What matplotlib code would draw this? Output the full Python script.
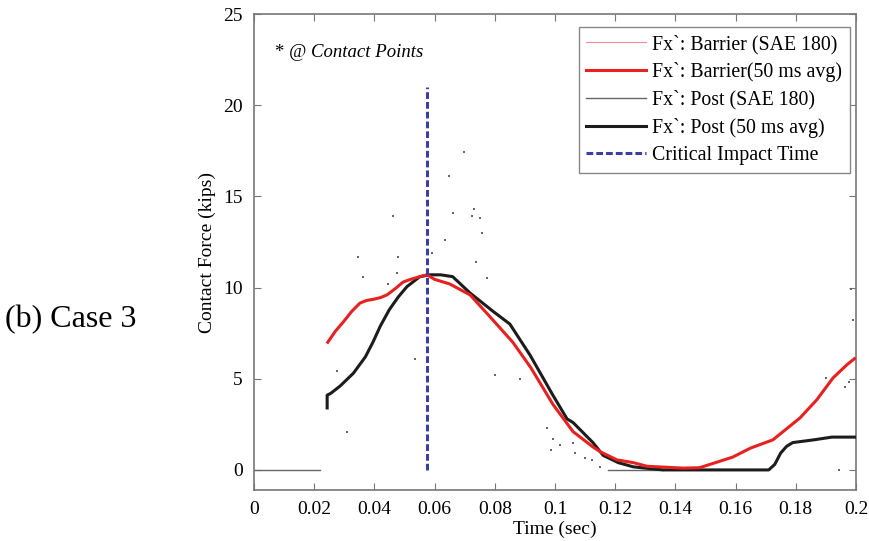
import matplotlib
matplotlib.use("Agg")
import matplotlib.pyplot as plt
from matplotlib.transforms import offset_copy
import numpy as np

plt.rcParams['font.family'] = ['Liberation Serif', 'DejaVu Serif']

# Barrier contact force, 50 ms moving average (kips)
barrier_t = [0.0245, 0.027, 0.0296, 0.0325, 0.0352, 0.0375, 0.0395, 0.042, 0.0442,
             0.047, 0.0495, 0.052, 0.0551, 0.0575, 0.060, 0.065, 0.0718, 0.0784,
             0.086, 0.092, 0.0993, 0.106, 0.1126, 0.115, 0.1206, 0.126, 0.1306,
             0.1425, 0.148, 0.159, 0.165, 0.1724, 0.1814, 0.187, 0.1924, 0.197, 0.1995]
barrier_avg = [7.0, 7.6, 8.1, 8.7, 9.15, 9.3, 9.35, 9.45, 9.6,
               9.95, 10.3, 10.45, 10.6, 10.7, 10.45, 10.2, 9.6, 8.4,
               7.0, 5.6, 3.6, 2.1, 1.26, 1.0, 0.55, 0.4, 0.2,
               0.1, 0.12, 0.7, 1.2, 1.65, 2.85, 3.85, 5.05, 5.77, 6.1]

# Post contact force, 50 ms moving average (kips)
post_t = [0.0243, 0.0243, 0.0255, 0.0286, 0.033, 0.037, 0.0395, 0.042, 0.045, 0.048,
          0.0508, 0.0551, 0.0585, 0.062, 0.066, 0.0718, 0.0794, 0.085, 0.0917,
          0.0993, 0.104, 0.106, 0.1126, 0.116, 0.121, 0.126, 0.131, 0.136, 0.150,
          0.171, 0.173, 0.175, 0.177, 0.179, 0.186, 0.192, 0.1995]
post_avg = [3.4, 4.1, 4.2, 4.6, 5.3, 6.2, 7.0, 7.9, 8.8, 9.5,
            10.05, 10.6, 10.7, 10.7, 10.6, 9.7, 8.7, 8.0, 6.3,
            4.1, 2.8, 2.6, 1.5, 0.8, 0.4, 0.17, 0.08, 0.0, 0.0,
            0.0, 0.3, 0.93, 1.3, 1.5, 1.65, 1.8, 1.8]

# Post contact force, SAE 180 filtered: flat zero segments
post_sae_t = [0.0, 0.0219, np.nan, 0.1176, 0.136]
post_sae = [0.0, 0.0, np.nan, 0.0, 0.0]

# Isolated SAE 180 samples at contact points
sample_t = [0.0698, 0.0648, 0.0661, 0.0724, 0.0731, 0.0751, 0.0757, 0.0635, 0.0462,
            0.0346, 0.0478, 0.0362, 0.0475, 0.0591, 0.0738, 0.0774, 0.0445,
            0.0973, 0.0993, 0.1017, 0.106, 0.0987, 0.1066, 0.110, 0.1123, 0.115,
            0.080, 0.0884, 0.0276, 0.0535, 0.0309,
            0.1983, 0.199, 0.190, 0.1977, 0.1963, 0.1944]
sample_f = [17.42, 16.1, 14.1, 13.9, 14.3, 13.8, 13.0, 12.6, 13.9,
            11.65, 11.65, 10.6, 10.8, 11.9, 11.4, 10.5, 10.2,
            2.3, 1.7, 1.37, 1.48, 1.1, 0.93, 0.66, 0.55, 0.16,
            5.2, 5.0, 5.4, 6.1, 2.1,
            9.9, 8.2, 5.05, 4.8, 4.55, 0.0]

critical_time = 0.0575
critical_top = 21.0

x_ticks = [0, 0.02, 0.04, 0.06, 0.08, 0.1, 0.12, 0.14, 0.16, 0.18, 0.2]
x_tick_labels = ['0', '0.02', '0.04', '0.06', '0.08', '0.1', '0.12', '0.14', '0.16', '0.18', '0.2']
y_ticks = [0, 5, 10, 15, 20, 25]

fig = plt.figure(figsize=(8.69, 5.41), dpi=100)
ax = fig.add_axes([0.2923, 0.0943, 0.6927, 0.8797])

ax.plot([], [], color='#f08c9a', lw=0.8, label='Fx`: Barrier (SAE 180)')
ax.plot(barrier_t, barrier_avg, color='#e8201f', lw=2.2, label='Fx`: Barrier(50 ms avg)',
        zorder=4, solid_joinstyle='round')
ax.plot(post_sae_t, post_sae, color='#666666', lw=1.0, label='Fx`: Post (SAE 180)', zorder=2)
ax.plot(post_t, post_avg, color='#1c1c1c', lw=2.2, label='Fx`: Post (50 ms avg)',
        zorder=3, solid_joinstyle='round')
ax.plot([critical_time, critical_time], [0, critical_top], color='#3a3fa5', lw=2.2,
        ls=(0, (2.2, 1.0)), label='Critical Impact Time', zorder=5)
ax.scatter(sample_t, sample_f, s=2, color='#666666', marker='s', linewidths=0, zorder=2)

ax.set_xlim(0, 0.2)
ax.set_ylim(-1.1, 25)
ax.set_xticks(x_ticks)
ax.set_xticklabels(x_tick_labels)
ax.set_yticks(y_ticks)
ax.tick_params(direction='in', length=5, width=0.8, color='#777777', labelsize=14,
               top=True, right=True, pad=8)
for s in ax.spines.values():
    s.set_color('#777777')
    s.set_linewidth(1.2)

ax.set_xlabel('Time (sec)', fontsize=14, labelpad=2)
ax.set_ylabel('Contact Force (kips)', fontsize=14, labelpad=5)

# Note: "* @" upright followed by the italic "Contact Points"
note = ax.text(0.007, 22.9, '* @', fontsize=13.5, va='center', ha='left')
fig.canvas.draw()
note_w = note.get_window_extent().width * 72.0 / fig.dpi
ax.text(0.007, 22.9, 'Contact Points', fontsize=13.5, va='center', ha='left', style='italic',
        transform=offset_copy(ax.transData, fig=fig, x=note_w + 3.5, y=0, units='points'))

leg = ax.legend(loc='upper right', bbox_to_anchor=(0.990, 0.973), borderaxespad=0,
                fontsize=14.3, fancybox=False, framealpha=1, edgecolor='#888888',
                handlelength=3.0, handletextpad=0.3, labelspacing=0.4,
                borderpad=0.4)
leg.get_frame().set_linewidth(1.0)

fig.text(0.006, 0.41, '(b) Case 3', fontsize=23, va='center', ha='left')

fig.savefig('out.png', dpi=100)
